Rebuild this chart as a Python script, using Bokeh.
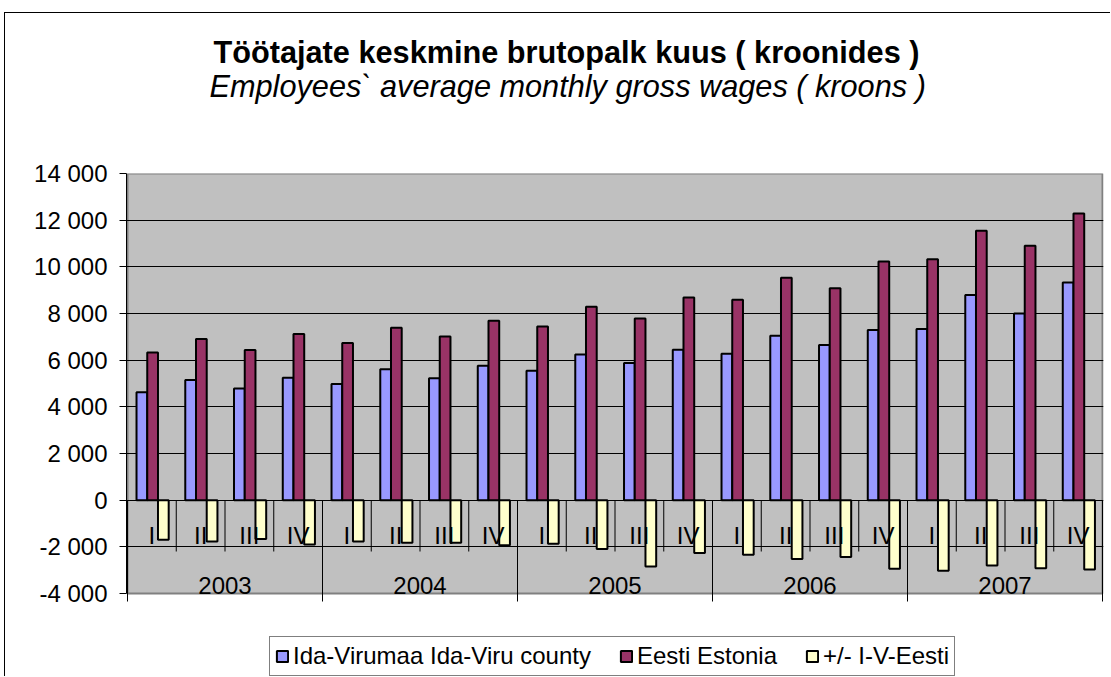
import numpy as np
from bokeh.plotting import figure
from bokeh.models import Range1d, FixedTicker, Legend, LegendItem, Title
from bokeh.core.properties import value
from bokeh.embed import file_html
from bokeh.resources import INLINE

# ---------------- data ----------------
years = ["2003", "2004", "2005", "2006", "2007"]
quarters = ["I", "II", "III", "IV"]
series_names = ["Ida-Virumaa Ida-Viru county", "Eesti Estonia", "+/- I-V-Eesti"]
ida_viru = [4620, 5150, 4790, 5250, 4980, 5610, 5220, 5760, 5550, 6240,
            5880, 6450, 6270, 7050, 6650, 7290, 7340, 8790, 8000, 9330]
eesti = [6330, 6910, 6440, 7120, 6740, 7390, 7010, 7690, 7440, 8290,
         7790, 8690, 8590, 9530, 9080, 10230, 10330, 11550, 10900, 12290]
difference = [-1700, -1770, -1660, -1900, -1770, -1830, -1830, -1930, -1870, -2090,
              -2840, -2260, -2340, -2520, -2440, -2940, -3020, -2800, -2920, -2970]
y_ticks = [-4000, -2000, 0, 2000, 4000, 6000, 8000, 10000, 12000, 14000]
y_tick_labels = ["-4 000", "-2 000", "0", "2 000", "4 000", "6 000", "8 000",
                 "10 000", "12 000", "14 000"]
title_text = "Töötajate keskmine brutopalk kuus ( kroonides )"
subtitle_text = "Employees` average monthly gross wages ( kroons )"

# ---------------- styles / layout ----------------
FONT = "Liberation Sans"
colors = ["#9999FF", "#993366", "#FFFFCC"]
offsets = [-0.205, 0.015, 0.235]
bar_w = 0.22
quarter_label_y = -1516
year_label_y = -3670

W, H = 1106, 664
plot_px_h = 420          # height of the grey plot area
below_px = 84            # room under the plot area (category ticks, legend)
top_px = 160
left_px, right_px = 121, 8
pad_px = 1

n = len(years) * len(quarters)
cat_quarters = [q for _ in years for q in quarters]
xc = np.arange(n) + 0.5
year_centers = [len(quarters) * i + len(quarters) / 2 for i in range(len(years))]
year_bounds = [len(quarters) * i for i in range(len(years) + 1)]
quarter_bounds = [i for i in range(1, n) if i % len(quarters) != 0]

y_span = y_ticks[-1] - y_ticks[0]
units_per_px = y_span / plot_px_h
y_lo = y_ticks[0] - below_px * units_per_px
plot_px_w = W - left_px - right_px - 2 * pad_px
x_pad = pad_px * n / plot_px_w

p = figure(width=W, height=H,
           x_range=Range1d(-x_pad, n + x_pad), y_range=Range1d(y_lo, y_ticks[-1]),
           output_backend="svg", toolbar_location=None, x_axis_location=None,
           min_border_left=left_px, min_border_right=right_px, min_border_top=top_px,
           min_border_bottom=0,
           background_fill_color="white", border_fill_color="white",
           outline_line_color=None)
p.styles = {"margin-left": "4px", "margin-top": "12px",
            "border-left": "1px solid black", "border-top": "1px solid black"}

# grey plot area
p.quad(left=[0], right=[n], bottom=[y_ticks[0]], top=[y_ticks[-1]],
       fill_color="#C0C0C0", line_color="#808080", line_width=2, level="image")

p.xgrid.visible = False
p.ygrid.ticker = FixedTicker(ticks=[t for t in y_ticks if y_ticks[0] < t < y_ticks[-1]])
p.ygrid.grid_line_color = "black"
p.ygrid.grid_line_width = 1
p.ygrid.bounds = (0, n)

yax = p.yaxis[0]
yax.ticker = FixedTicker(ticks=y_ticks)
yax.bounds = (y_ticks[0], y_ticks[-1])
yax.major_label_overrides = {t: l for t, l in zip(y_ticks, y_tick_labels)}
yax.major_label_text_font = FONT
yax.major_label_text_font_size = "24px"
yax.major_label_text_color = "black"
yax.major_label_standoff = 12
yax.axis_line_color = "black"
yax.major_tick_out = 7
yax.major_tick_in = 0
yax.minor_tick_out = 0
yax.minor_tick_in = 0
yax.major_tick_line_color = "black"

# category separators (quarters short, years long, reaching 8px below the plot area)
p.segment(x0=quarter_bounds, x1=quarter_bounds, y0=[0] * len(quarter_bounds),
          y1=[-2200] * len(quarter_bounds), line_color="black", line_width=1)
year_tick_end = y_ticks[0] - 8 * units_per_px
p.segment(x0=year_bounds, x1=year_bounds, y0=[0] * len(year_bounds),
          y1=[year_tick_end] * len(year_bounds), line_color="black", line_width=1)

renderers = []
for vals, off, col in zip([ida_viru, eesti, difference], offsets, colors):
    r = p.vbar(x=xc + off, top=vals, bottom=0, width=bar_w,
               fill_color=col, line_color="black", line_width=2)
    renderers.append(r)

p.text(x=xc, y=[quarter_label_y] * n, text=cat_quarters, text_align="center",
       text_baseline="middle", text_font=value(FONT), text_font_size="24px",
       text_color="black")
p.text(x=year_centers, y=[year_label_y] * len(years), text=years, text_align="center",
       text_baseline="middle", text_font=value(FONT), text_font_size="24px",
       text_color="black")

legend = Legend(items=[LegendItem(label=nm, renderers=[r]) for nm, r in zip(series_names, renderers)],
                location=(143, 1), orientation="horizontal",
                label_text_font=FONT, label_text_font_size="24px", label_text_color="black",
                glyph_width=14, glyph_height=14, label_standoff=4, spacing=28,
                padding=5, margin=0, border_line_color="black", border_line_width=1,
                background_fill_color="white", background_fill_alpha=1.0)
p.add_layout(legend)

# spacer between the plot area and the subtitle
p.add_layout(Title(text=" ", standoff=67, text_font=FONT, text_font_size="1px"), "above")
p.add_layout(Title(text=subtitle_text, align="left", offset=83, standoff=0,
                   text_font=FONT, text_font_size="30.7px", text_font_style="italic",
                   text_color="black"), "above")
p.add_layout(Title(text=title_text, align="left", offset=87, standoff=-6,
                   text_font=FONT, text_font_size="30.7px", text_font_style="bold",
                   text_color="black"), "above")

open("out.html", "w").write(file_html(p, INLINE))
